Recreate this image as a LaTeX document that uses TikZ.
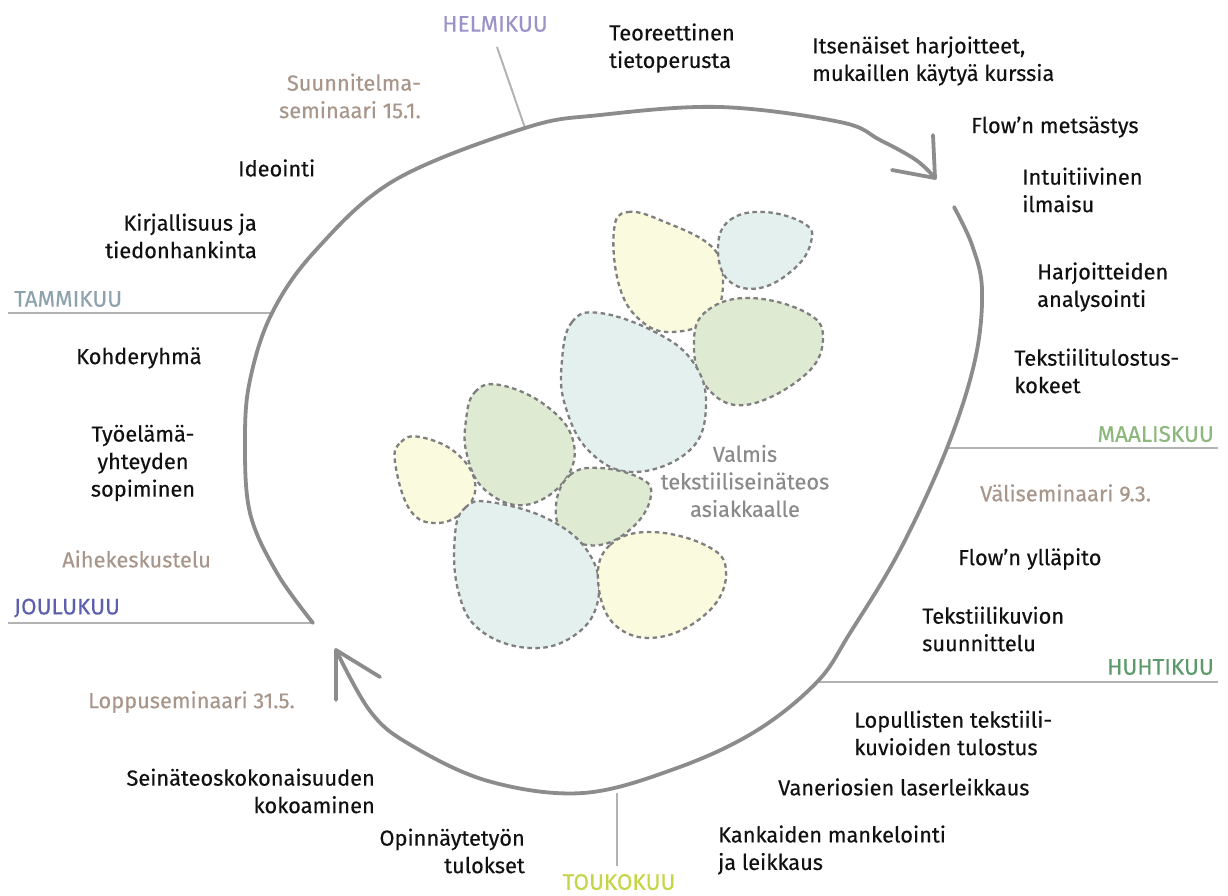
\documentclass[tikz,border=0pt]{standalone}
\usepackage{fontspec}
\setmainfont{Fira Sans}[BoldFont={Fira Sans}, BoldFeatures={FakeBold=0.35}]
\definecolor{txt}{HTML}{111111}
\definecolor{taupe}{HTML}{A8968A}
\definecolor{loopc}{HTML}{8C8C8C}
\definecolor{mline}{HTML}{B3B3B3}
\definecolor{helmi}{HTML}{9C92C9}
\definecolor{tammi}{HTML}{8DA2AD}
\definecolor{joulu}{HTML}{5C5FAE}
\definecolor{maalis}{HTML}{8CB77D}
\definecolor{huhti}{HTML}{5C9A6A}
\definecolor{touko}{HTML}{C5D548}
\definecolor{centc}{HTML}{8A8A8A}
\definecolor{byel}{HTML}{FAFADF}
\definecolor{bblue}{HTML}{E4F0EE}
\definecolor{bgreen}{HTML}{DEEAD2}
\definecolor{bdash}{HTML}{7F7F7F}
\tikzset{
  lbl/.style={font=\fontsize{21.8}{27.5}\selectfont\bfseries, text=txt, inner sep=0pt},
  sem/.style={lbl, text=taupe},
  month/.style={lbl, font=\fontsize{22.5}{27.5}\selectfont\bfseries},
  mlinestyle/.style={draw=mline, line width=2pt},
  loopstyle/.style={draw=loopc, line width=3.8pt, line cap=round, line join=round},
  blob/.style={draw=bdash, line width=2.3pt, dash pattern=on 4.5pt off 3.5pt},
}
\begin{document}
\begin{tikzpicture}[x=1pt,y=-1pt]
\useasboundingbox (0,0) rectangle (1228,895);

% blobs
\filldraw[blob, fill=byel] plot[smooth cycle, tension=0.7] coordinates {(614,230) (628,212) (665,222) (712,247) (723,280) (712,318) (672,332) (640,320) (619,285)};
\filldraw[blob, fill=bblue] plot[smooth cycle, tension=0.7] coordinates {(718,247) (730,220) (765,212) (805,224) (811,242) (795,268) (760,288) (728,280)};
\filldraw[blob, fill=bgreen] plot[smooth cycle, tension=0.7] coordinates {(694,340) (708,310) (750,298) (805,312) (823,337) (805,375) (745,405) (705,385)};
\filldraw[blob, fill=bblue] plot[smooth cycle, tension=0.7] coordinates {(562,360) (572,322) (600,313) (655,332) (693,362) (706,405) (690,450) (635,472) (590,452) (565,405)};
\filldraw[blob, fill=bgreen] plot[smooth cycle, tension=0.7] coordinates {(466,420) (475,392) (500,385) (545,405) (573,440) (565,480) (525,505) (485,490) (467,455)};
\filldraw[blob, fill=byel] plot[smooth cycle, tension=0.7] coordinates {(395,462) (401,442) (420,437) (455,452) (475,482) (465,510) (437,523) (410,510)};
\filldraw[blob, fill=bgreen] plot[smooth cycle, tension=0.7] coordinates {(556,505) (570,475) (600,468) (640,478) (651,495) (635,525) (600,545) (565,535)};
\filldraw[blob, fill=bblue] plot[smooth cycle, tension=0.7] coordinates {(455,535) (465,508) (490,502) (550,520) (590,555) (598,600) (575,635) (530,648) (480,630) (458,590)};
\filldraw[blob, fill=byel] plot[smooth cycle, tension=0.7] coordinates {(598,580) (610,545) (650,532) (705,545) (726,570) (710,610) (660,637) (615,625)};

% month lines
\coordinate (tamA) at (8,313);   \coordinate (tamB) at (272,313);
\coordinate (jouA) at (8,623);   \coordinate (jouB) at (313,623);
\coordinate (maaA) at (947,448); \coordinate (maaB) at (1218,448);
\coordinate (huhA) at (817,682); \coordinate (huhB) at (1218,682);
\coordinate (touA) at (617,793); \coordinate (touB) at (617,866);
\coordinate (helA) at (497,47);  \coordinate (helB) at (525,128);
\draw[mlinestyle] (tamA) -- (tamB);
\draw[mlinestyle] (jouA) -- (jouB);
\draw[mlinestyle] (maaA) -- (maaB);
\draw[mlinestyle] (huhA) -- (huhB);
\draw[mlinestyle] (touA) -- (touB);
\draw[mlinestyle] (helA) -- (helB);

% main loop
\draw[loopstyle] plot[smooth, tension=0.6] coordinates {(313,623) (277,573) (250,513) (245,440) (250,380) (272,313) (316,250) (395,180) (525,128) (600,115) (720,107) (840,122) (880,140) (916,160) (935,178)};
\draw[loopstyle] (933,135) -- (935,178) -- (892,170);
\draw[loopstyle] plot[smooth, tension=0.6] coordinates {(954,207) (972,245) (982,290) (975,360) (947,448) (900,550) (850,633) (817,682) (756,731) (677,768) (583,793) (488,781) (409,744) (370,711) (336,650)};
\draw[loopstyle] (336,700) -- (336,650) -- (380,677);

% months
\node[month, text=helmi, anchor=center] (helmikuu) at (495,24) {HELMIKUU};
\node[month, text=tammi, anchor=west] (tammikuu) at (14,299) {TAMMIKUU};
\node[month, text=joulu, anchor=west] (joulukuu) at (14,608) {JOULUKUU};
\node[month, text=maalis, anchor=east] (maaliskuu) at (1214,434) {MAALISKUU};
\node[month, text=huhti, anchor=east] (huhtikuu) at (1214,667) {HUHTIKUU};
\node[month, text=touko, anchor=center] (toukokuu) at (619,882) {TOUKOKUU};

% seminars
\node[sem, anchor=east, align=right] (suunn) at (421,96) {Suunnitelma-\\seminaari 15.1.};
\node[sem, anchor=west] (vali) at (980,493) {Väliseminaari 9.3.};
\node[sem, anchor=west] (aihe) at (62,559) {Aihekeskustelu};
\node[sem, anchor=west] (loppu) at (88,702) {Loppuseminaari 31.5.};

% center
\node[lbl, text=centc, align=center] (valmis) at (745,481) {Valmis\\tekstiiliseinäteos\\asiakkaalle};

% activities
\node[lbl, anchor=west, align=left] (teor) at (609,48) {Teoreettinen\\tietoperusta};
\node[lbl, anchor=west, align=left] (itse) at (812,61) {Itsenäiset harjoitteet,\\mukaillen käytyä kurssia};
\node[lbl, anchor=west] (flow1) at (971,127) {Flow’n metsästys};
\node[lbl, anchor=west, align=left] (intu) at (1022,190) {Intuitiivinen\\ilmaisu};
\node[lbl, anchor=west] (ideo) at (238,168) {Ideointi};
\node[lbl, anchor=east, align=right] (kirj) at (257,236) {Kirjallisuus ja\\tiedonhankinta};
\node[lbl, anchor=west, align=left] (harj) at (1037,287) {Harjoitteiden\\analysointi};
\node[lbl, anchor=west] (kohd) at (76,358) {Kohderyhmä};
\node[lbl, anchor=west, align=left] (tulo) at (1014,371) {Tekstiilitulostus-\\kokeet};
\node[lbl, align=center] (tyoe) at (143,463) {Työelämä-\\yhteyden\\sopiminen};
\node[lbl, anchor=west] (flow2) at (958,559) {Flow’n ylläpito};
\node[lbl, anchor=west, align=left] (kuvi) at (922,629) {Tekstiilikuvion\\suunnittelu};
\node[lbl, anchor=west, align=left] (lopu) at (854,733) {Lopullisten tekstiili-\\kuvioiden tulostus};
\node[lbl, anchor=east, align=right] (sein) at (375,791) {Seinäteoskokonaisuuden\\kokoaminen};
\node[lbl, anchor=west] (vane) at (778,787) {Vaneriosien laserleikkaus};
\node[lbl, anchor=east, align=right] (opin) at (525,851) {Opinnäytetyön\\tulokset};
\node[lbl, anchor=west, align=left] (kank) at (718,850) {Kankaiden mankelointi\\ja leikkaus};
\end{tikzpicture}
\end{document}
